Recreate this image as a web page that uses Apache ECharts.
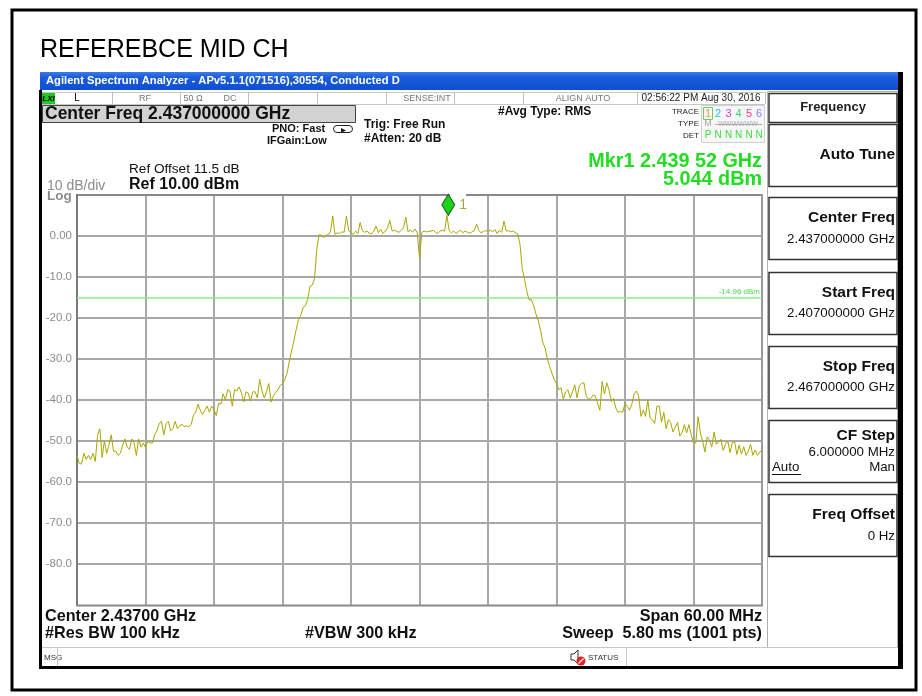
<!DOCTYPE html>
<html><head><meta charset="utf-8">
<script src="https://cdn.jsdelivr.net/npm/echarts@6/dist/echarts.min.js"></script>
<style>html,body{margin:0;padding:0;background:#fff}#c{width:922px;height:696px}</style>
</head><body><div id="c"></div>
<script>
// ---- data ----
const startMHz = 2407;
const stopMHz = 2467;
const stepMHz = 0.2;   // trace sample spacing (read every 0.2 MHz)
const levels = [
-53.5,-55.5,-55.6,-53,-54.5,-53.5,-54.5,-53,-55,-48.6,
-47,-54,-50,-53,-51,-48.5,-52.5,-52.5,-53.5,-53,
-51,-49.5,-51.5,-52,-49.5,-50.5,-53.5,-49.5,-51.5,-50.5,
-51.5,-50,-50.5,-50.5,-48.5,-47.5,-45.7,-45.2,-48.5,-45.8,
-45.2,-47.5,-47,-45.2,-47,-46.2,-46,-46.5,-46.3,-46.5,
-46,-43.7,-43,-41,-42.5,-43.5,-42.5,-41.5,-43,-41.5,
-42.3,-43.8,-40.8,-41,-38.5,-40,-37.5,-37.8,-41.5,-37.5,
-37.8,-36.8,-38.2,-40.5,-38,-38.3,-40.3,-38,-38,-39.5,
-35,-37.8,-39.5,-38,-36,-40.5,-39,-38.2,-37.5,-36.5,
-36,-35,-33.5,-30.5,-28,-25.5,-22.8,-20.4,-19.4,-17.5,
-17,-15.5,-12.3,-12,-10.5,-3.3,0.3,0.2,-0.4,0.2,
0.3,1.0,4.9,0.4,0.8,0.6,1.0,0.9,4.9,1.3,
0.8,0.4,1.2,0.6,3.3,1.3,0.9,1.2,0.7,0.5,
1.2,2.4,0.8,1.6,0.6,1.2,2.0,3.8,1.2,1.4,
1.1,0.9,1.4,2.0,4.6,1.0,1.5,0.9,1.7,0.8,
-5.3,0.8,1.2,1.0,1.1,1.2,1.4,0.9,0.6,1.2,
1.4,1.2,5.04,1.3,0.8,1.2,0.6,1.1,1.4,0.8,
1.2,0.9,0.7,1.0,1.3,2.9,1.3,0.8,1.1,1.3,
1.2,1.4,1.0,1.6,0.6,1.4,0.9,3.6,1.2,1.3,
1.0,1.2,0.8,0.5,-2.0,-8.0,-10.6,-13.5,-15.6,-15.5,
-17,-19,-20.6,-23,-26,-27.3,-30,-31.8,-33.5,-35,
-36,-37.5,-37,-39.8,-38,-37.5,-39.5,-38,-36.3,-39.5,
-36.5,-35.9,-35.8,-39,-39.8,-39.6,-38.8,-39,-40.8,-42.5,
-35.5,-38.5,-35.8,-37.5,-40.4,-39.6,-42,-43,-42.8,-43,
-40.8,-41.5,-42.5,-41,-38.5,-37.8,-39,-44,-42.5,-44,
-40,-44.4,-44.8,-45.7,-41.5,-41.5,-45.4,-43,-47,-44.8,
-45.5,-47.8,-46.6,-45.5,-48.8,-48,-46,-48,-46,-48.4,
-50.5,-50.5,-44.1,-48,-50,-52.7,-49,-49.8,-51.5,-47.8,
-50.8,-50.2,-49.6,-52.3,-50.8,-50,-52.8,-50.4,-50.2,-53.3,
-51,-53.2,-51.4,-53.5,-52.5,-50.8,-53.5,-52.2,-53.5,-52.7,
-52.3
];
const yTickValues = [0,-10,-20,-30,-40,-50,-60,-70,-80];
const yTickLabels = ['0.00','-10.0','-20.0','-30.0','-40.0','-50.0','-60.0','-70.0','-80.0'];
const refLevel = 10, dbPerDiv = 10, divisions = 10;
const displayLine = -14.96;
const markerFreqMHz = 2439.52;
const markerLevel = 5.044;

// ---- build ----
const traceData = levels.map((v, i) => [i * stepMHz, v]); // x = offset from start freq (MHz)
const chart = echarts.init(document.getElementById('c'), null, {renderer: 'canvas'});
const F = 'Liberation Sans, Arial, sans-serif';
function T(x, y, text, font, fill, align, extra) {
  return Object.assign({type: 'text', silent: true, style: {x: x, y: y, text: text, font: font, fill: fill || '#000', align: align || 'left', verticalAlign: 'middle'}}, extra || {});
}
function R(x, y, w, h, fill, stroke, lw, z) {
  return {type: 'rect', silent: true, z: z == null ? 0 : z, shape: {x: x, y: y, width: w, height: h}, style: {fill: fill || 'none', stroke: stroke || 'none', lineWidth: lw || 1}};
}
function L(x1, y1, x2, y2, stroke, lw, z) {
  return {type: 'line', silent: true, z: z == null ? 1 : z, shape: {x1: x1, y1: y1, x2: x2, y2: y2}, style: {stroke: stroke, lineWidth: lw || 1}};
}
const g = [];
// outer frame + title
g.push(R(12, 10, 904, 680, 'none', '#000', 3));
g.push(T(40, 50, 'REFEREBCE MID CH', '25px ' + F, '#000'));
// window title bar
g.push({type: 'rect', silent: true, shape: {x: 40, y: 72, width: 858, height: 18},
  style: {fill: new echarts.graphic.LinearGradient(0, 0, 0, 1, [{offset: 0, color: '#3d7bea'}, {offset: 0.3, color: '#1a5cdc'}, {offset: 1, color: '#0f4fcf'}])}});
g.push(T(46, 81, 'Agilent Spectrum Analyzer - APv5.1.1(071516),30554, Conducted D', 'bold 11.2px ' + F, '#fff'));
// window borders
g.push(R(898, 72, 5, 597, '#000'));
g.push(R(39, 90, 3, 579, '#000'));
g.push(R(39, 666, 864, 3, '#000'));
// status row
g.push(L(42, 92.5, 765, 92.5, '#c8c8c8', 1));
g.push(L(42, 104.5, 765, 104.5, '#c8c8c8', 1));
[112, 180, 248, 317, 386, 454, 523, 637, 765].forEach(x => g.push(L(x + 0.5, 92, x + 0.5, 104, '#c0c0c0', 1)));
g.push(R(42, 92, 13, 12, '#21c821'));
g.push(T(48.5, 98.5, 'LXI', 'italic bold 8px ' + F, '#000', 'center'));
g.push(T(77, 98.5, 'L', '10px ' + F, '#000', 'center'));
g.push(T(145, 98.5, 'RF', '9px ' + F, '#777', 'center'));
g.push(T(193, 98.5, '50 Ω', '9px ' + F, '#777', 'center'));
g.push(T(230, 98.5, 'DC', '9px ' + F, '#777', 'center'));
g.push(T(427, 98.5, 'SENSE:INT', '9px ' + F, '#777', 'center'));
g.push(T(583, 98.5, 'ALIGN AUTO', '9px ' + F, '#777', 'center'));
g.push(T(701, 98.5, '02:56:22 PM Aug 30, 2016', '10px ' + F, '#222', 'center'));
// center freq box
g.push(R(42.5, 105.5, 313, 17, '#d2d2d2', '#444', 1));
g.push(T(45, 114.5, 'Center Freq 2.437000000 GHz', 'bold 17.5px ' + F, '#111'));
g.push(T(272, 129, 'PNO: Fast', 'bold 11px ' + F, '#111'));
g.push(T(267, 141, 'IFGain:Low', 'bold 11px ' + F, '#111'));
g.push({type: 'rect', silent: true, shape: {x: 333.5, y: 125.5, width: 19, height: 7, r: 3.5}, style: {fill: 'none', stroke: '#222', lineWidth: 1}});
g.push({type: 'polygon', silent: true, shape: {points: [[341, 128], [346, 130.5], [341, 133]]}, style: {fill: '#222'}});
g.push(T(364, 124.5, 'Trig: Free Run', 'bold 12px ' + F, '#111'));
g.push(T(364, 139, '#Atten: 20 dB', 'bold 12px ' + F, '#111'));
g.push(T(498, 112, '#Avg Type: RMS', 'bold 12px ' + F, '#111'));
// trace table
g.push(R(701.5, 105.5, 63, 37, '#f7f7f7', '#d0d0d0', 1));
g.push(T(699, 112, 'TRACE', '8px ' + F, '#222', 'right'));
g.push(T(699, 123.5, 'TYPE', '8px ' + F, '#222', 'right'));
g.push(T(699, 135.5, 'DET', '8px ' + F, '#222', 'right'));
g.push(R(703.5, 107.5, 9, 12, 'none', '#6bcc6b', 1));
const trColors = ['#f0a020', '#2cb8f0', '#d43cd4', '#3ed07e', '#f04080', '#8a78f0'];
const trX = [708, 718, 728.5, 738.5, 749, 759];
trX.forEach((x, i) => g.push(T(x, 113.5, String(i + 1), '11px ' + F, trColors[i], 'center')));
g.push(T(708, 124, 'M', '9px ' + F, '#aaa', 'center'));
g.push(T(738, 124, 'WWWWWW', '7px ' + F, '#aaa', 'center'));
g.push(L(715, 124.5, 762, 124.5, '#aaa', 1));
['P', 'N', 'N', 'N', 'N', 'N'].forEach((s, i) => g.push(T(trX[i], 135.5, s, '10px ' + F, '#3cdc3c', 'center')));
// marker readout
g.push(T(762, 162, 'Mkr1 2.439 52 GHz', 'bold 19.8px ' + F, '#22dd22', 'right'));
g.push(T(762, 180, '5.044 dBm', 'bold 19.8px ' + F, '#22dd22', 'right'));
// ref info
g.push(T(129, 169.5, 'Ref Offset 11.5 dB', '13.6px ' + F, '#111'));
g.push(T(129, 184.5, 'Ref 10.00 dBm', 'bold 16px ' + F, '#111'));
g.push(T(47, 186, '10 dB/div', '14px ' + F, '#8c8c8c'));
g.push(T(47, 196.5, 'Log', 'bold 13.5px ' + F, '#8c8c8c'));
// plot frame (top edge has a gap at the marker)
g.push(L(76, 195, 450, 195, '#8a8a8a', 2, 5));
g.push(L(466, 195, 763, 195, '#8a8a8a', 2, 5));
g.push(L(77, 194, 77, 606, '#7a7a7a', 2, 5));
g.push(L(762, 194, 762, 606, '#9a9a9a', 2, 5));
g.push(L(76, 605.5, 763, 605.5, '#8a8a8a', 2, 5));
// bottom annotations
g.push(T(45, 617, 'Center 2.43700 GHz', 'bold 16.2px ' + F, '#111'));
g.push(T(762, 617, 'Span 60.00 MHz', 'bold 16.2px ' + F, '#111', 'right'));
g.push(T(45, 634, '#Res BW 100 kHz', 'bold 16.2px ' + F, '#111'));
g.push(T(305, 634, '#VBW 300 kHz', 'bold 16.2px ' + F, '#111'));
g.push(T(762, 634, 'Sweep  5.80 ms (1001 pts)', 'bold 16.2px ' + F, '#111', 'right'));
// message row
g.push(L(42, 647.5, 898, 647.5, '#c8c8c8', 1));
g.push(L(57.5, 648, 57.5, 666, '#c8c8c8', 1));
g.push(L(626.5, 648, 626.5, 666, '#c8c8c8', 1));
g.push(T(44, 658, 'MSG', '8px ' + F, '#333'));
g.push({type: 'polygon', silent: true, shape: {points: [[571, 654], [574, 654], [578, 650], [578, 664], [574, 660], [571, 660]]}, style: {fill: '#fff', stroke: '#333', lineWidth: 1}});
g.push({type: 'circle', silent: true, shape: {cx: 581, cy: 661, r: 4.5}, style: {fill: '#e52020'}});
g.push(L(578.5, 663.5, 583.5, 658.5, '#fff', 1.2, 2));
g.push(T(588, 658, 'STATUS', '8px ' + F, '#333'));
// softkey panel
g.push(R(767.5, 91.5, 130, 556, '#fff', '#b0b0b0', 1));
const keys = [
  {y: 93, h: 29},
  {y: 124, h: 62},
  {y: 197, h: 62},
  {y: 272, h: 62},
  {y: 346, h: 62},
  {y: 420, h: 62},
  {y: 494, h: 62}
];
keys.forEach(k => g.push(R(769, k.y + 0.5, 128, k.h, '#fff', '#333', 1.5)));
const KT = 'bold 15.5px ' + F, KV = '13.3px ' + F;
g.push(T(833, 107.5, 'Frequency', 'bold 13px ' + F, '#222', 'center'));
g.push(T(895, 155, 'Auto Tune', KT, '#111', 'right'));
g.push(T(895, 218, 'Center Freq', KT, '#111', 'right'));
g.push(T(895, 239, '2.437000000 GHz', KV, '#111', 'right'));
g.push(T(895, 293, 'Start Freq', KT, '#111', 'right'));
g.push(T(895, 313, '2.407000000 GHz', KV, '#111', 'right'));
g.push(T(895, 367, 'Stop Freq', KT, '#111', 'right'));
g.push(T(895, 387, '2.467000000 GHz', KV, '#111', 'right'));
g.push(T(895, 436, 'CF Step', KT, '#111', 'right'));
g.push(T(895, 452, '6.000000 MHz', KV, '#111', 'right'));
g.push(T(772, 467, 'Auto', KV, '#111'));
g.push(L(772, 474.5, 801, 474.5, '#111', 1));
g.push(T(895, 467, 'Man', KV, '#111', 'right'));
g.push(T(895, 515, 'Freq Offset', KT, '#111', 'right'));
g.push(T(895, 536, '0 Hz', KV, '#111', 'right'));

const option = {
  animation: false,
  backgroundColor: '#fff',
  grid: {left: 77, top: 195, width: 685, height: 410, containLabel: false},
  xAxis: {
    type: 'value', min: 0, max: stopMHz - startMHz, interval: (stopMHz - startMHz) / divisions,
    axisLine: {show: false}, axisTick: {show: false}, axisLabel: {show: false},
    splitLine: {show: true, showMinLine: false, showMaxLine: false, lineStyle: {color: '#a8a8a8', width: 2}}
  },
  yAxis: {
    type: 'value', min: refLevel - dbPerDiv * divisions, max: refLevel, interval: dbPerDiv,
    axisLine: {show: false}, axisTick: {show: false},
    axisLabel: {
      margin: 5, color: '#8c8c8c', fontSize: 11.5, fontFamily: F,
      formatter: v => { const i = yTickValues.indexOf(v); return i >= 0 ? yTickLabels[i] : ''; }
    },
    splitLine: {show: true, showMinLine: false, showMaxLine: false, lineStyle: {color: '#a8a8a8', width: 2}}
  },
  series: [{
    type: 'line', data: traceData, showSymbol: false, symbol: 'none', z: 10,
    lineStyle: {color: '#aaa600', width: 1},
    markLine: {
      silent: true, symbol: 'none', animation: false,
      lineStyle: {color: '#88ee88', width: 1.5, type: 'solid'},
      label: {show: true, position: 'insideEndTop', formatter: displayLine.toFixed(2) + ' dBm', color: '#44dd44', fontSize: 8, fontFamily: F, distance: 2},
      data: [{yAxis: displayLine}]
    },
    markPoint: {
      silent: true, animation: false,
      symbol: 'diamond', symbolSize: [13, 21], symbolOffset: [0, '-50%'],
      itemStyle: {color: '#19d419', borderColor: '#1a5a1a', borderWidth: 1},
      label: {show: true, position: 'right', formatter: '1', color: '#a6a63a', fontSize: 14, fontFamily: F, offset: [-1, 0]},
      data: [{coord: [markerFreqMHz - startMHz, markerLevel]}]
    }
  }],
  graphic: g
};
chart.setOption(option);
</script>
</body></html>
